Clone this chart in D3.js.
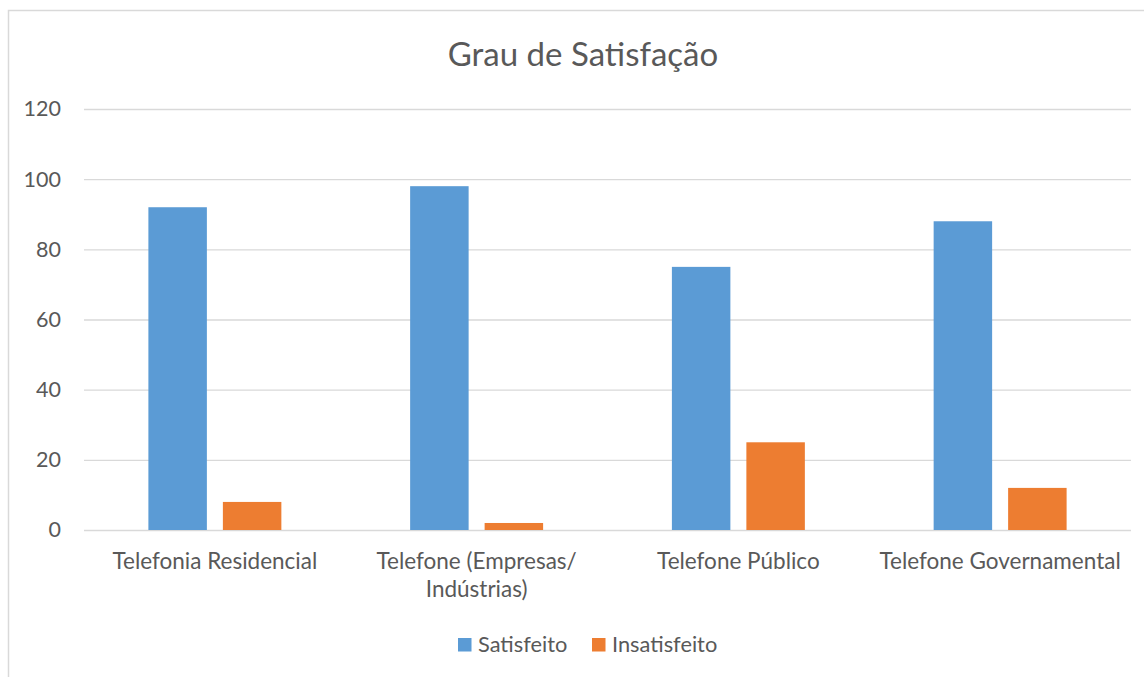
<!DOCTYPE html>
<html><head><meta charset="utf-8">
<script src="https://cdn.jsdelivr.net/npm/d3@7"></script>
<style>body{margin:0;background:#fff}svg{display:block}text{font-family:Lato,"Open Sans",sans-serif;fill:#595959}</style>
</head><body><svg id="c" width="1144" height="677"></svg>
<script>
const categories = ["Telefonia Residencial", "Telefone (Empresas/ Indústrias)", "Telefone Público", "Telefone Governamental"];
const categoryLines = [["Telefonia Residencial"], ["Telefone (Empresas/", "Indústrias)"], ["Telefone Público"], ["Telefone Governamental"]];
const seriesNames = ["Satisfeito", "Insatisfeito"];
const satisfeito = [92, 98, 75, 88];
const insatisfeito = [8, 2, 25, 12];
const yTicks = [0, 20, 40, 60, 80, 100, 120];
const colors = ["#5b9bd5", "#ed7d31"];

(function(){
const svg = d3.select("#c");
svg.append("path").attr("d","M8.5,677 V10.5 H1144").attr("fill","none").attr("stroke","#d9d9d9").attr("stroke-width",1.5);

const pl = 84, pr = 1131, pt = 109, pb = 530;
const y = d3.scaleLinear().domain([0,120]).range([pb, pt]);
const x0 = d3.scaleBand().domain(categories).range([pl,pr]).paddingInner(0.492).paddingOuter(0.246);
const x1 = d3.scaleBand().domain(seriesNames).range([0, x0.bandwidth()]).paddingInner(0.2148);

const yAxis = d3.axisLeft(y).tickValues(yTicks).tickSize(-(pr-pl)).tickPadding(23);
const ga = svg.append("g").attr("transform",`translate(${pl},0)`).call(yAxis);
ga.select(".domain").remove();
ga.selectAll(".tick line").attr("stroke","#d9d9d9").attr("stroke-width",1.3);
ga.selectAll(".tick text").attr("font-size",21.5).attr("fill","#595959").attr("font-family","Lato");

svg.append("text").attr("x",583).attr("y",66).attr("text-anchor","middle").attr("font-size",33).text("Grau de Satisfação");

const data = categories.map((c,i)=>({c, vals:[satisfeito[i], insatisfeito[i]]}));
const g = svg.append("g").selectAll("g").data(data).join("g").attr("transform",d=>`translate(${x0(d.c)},0)`);
g.selectAll("rect").data(d=>d.vals.map((v,j)=>({s:seriesNames[j],v,j}))).join("rect")
 .attr("x",d=>x1(d.s)).attr("width",x1.bandwidth())
 .attr("y",d=>y(d.v)).attr("height",d=>y(0)-y(d.v)).attr("fill",d=>colors[d.j]);

const cl = svg.append("g").selectAll("text").data(categories).join("text")
 .attr("x",d=>x0(d)+x0.bandwidth()/2).attr("y",569).attr("text-anchor","middle").attr("font-size",22.5);
cl.each(function(d,i){
  const t=d3.select(this);
  categoryLines[i].forEach((ln,k)=>t.append("tspan").attr("x",x0(d)+x0.bandwidth()/2).attr("dy",k?28:0).text(ln));
});

const lg = svg.append("g");
const legendX = [458, 592];
seriesNames.forEach((s,i)=>{
  lg.append("rect").attr("x",legendX[i]).attr("y",638).attr("width",13.5).attr("height",13.5).attr("fill",colors[i]);
  lg.append("text").attr("x",legendX[i]+20).attr("y",651.5).attr("font-size",21.8).text(s);
});
})();
</script></body></html>
